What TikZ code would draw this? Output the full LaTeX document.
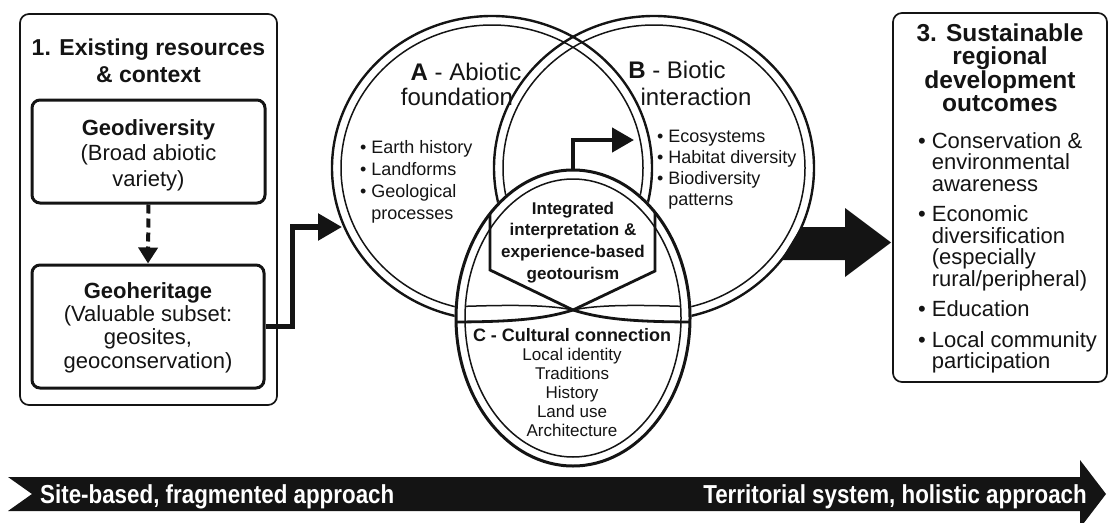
\documentclass[tikz,border=0pt]{standalone}
\usepackage{fontspec}
\setmainfont{Liberation Sans}
\newfontfamily\bandfont[FakeStretch=0.86]{Liberation Sans}
\usetikzlibrary{arrows.meta}
\definecolor{ink}{HTML}{141414}
\newcommand\setfs[2]{\fontsize{#1}{#2}\selectfont}
\newcommand\bul{\makebox[0.62em][l]{•}}
\newcommand\ind{\hspace*{0.62em}}

\begin{document}
\begin{tikzpicture}[x=1pt,y=-1pt,
  panel/.style={draw=ink,line width=1.7pt,rounded corners=9pt},
  subbox/.style={draw=ink,line width=3pt,rounded corners=8pt},
  lbl/.style={inner sep=0pt,text=ink,align=center},
  list/.style={inner sep=0pt,text=ink,align=left,anchor=north west},
  ringout/.style={draw=ink,line width=2.4pt},
  ringin/.style={draw=ink,line width=1.5pt},
  elbow/.style={draw=ink,line width=5.5pt,line join=miter,-{Triangle[width=26pt,length=24pt]}},
  stem/.style={draw=ink,line width=4.5pt,line join=miter,-{Triangle[width=24pt,length=22pt]}},
  dasharrow/.style={draw=ink,line width=4pt,dash pattern=on 9pt off 5pt,-{Triangle[width=19pt,length=16pt]}},
  bandtext/.style={inner sep=0pt,text=white,font=\bandfont\bfseries\setfs{26}{26}},
]
\useasboundingbox (0,0) rectangle (1110,522);
\clip (0,0) rectangle (1110,522);

% ---------- timeline band ----------
\fill[ink] (8,477) -- (1080,477) -- (1080,460) -- (1106,494) -- (1080,528)
  -- (1080,511) -- (8,511) -- (32,494) -- cycle;
\node[bandtext,anchor=base west] (from) at (40,503.5) {Site-based, fragmented approach};
\node[bandtext,anchor=base east] (to) at (1087,503.5) {Territorial system, holistic approach};

% ---------- stage 1 ----------
\node[panel,minimum width=257pt,minimum height=391pt] (stage1) at (148.5,209.5) {};
\node[lbl,anchor=north,font=\bfseries\setfs{23}{27}] (t1) at (148.5,38.5)
  {1. Existing resources\\\& context};
\node[subbox,minimum width=233pt,minimum height=103pt] (geodiv) at (148.5,151.5) {};
\node[lbl,anchor=north,font=\setfs{22}{25.5}] (geodivtxt) at (148.5,119)
  {{\bfseries Geodiversity}\\(Broad abiotic\\variety)};
\node[subbox,minimum width=232pt,minimum height=123pt] (geoher) at (148,326.5) {};
\node[lbl,anchor=north,font=\setfs{22}{23.3}] (geohertxt) at (148,282)
  {{\bfseries Geoheritage}\\(Valuable subset:\\geosites,\\geoconservation)};
\draw[dasharrow] (geodiv.south) -- (geoher.north);

% ---------- stage 3 ----------
\node[panel,minimum width=214pt,minimum height=369pt] (stage3) at (1000,197.5) {};
\node[lbl,anchor=north,font=\bfseries\setfs{24.5}{23.5}] (t3) at (1000,23.5)
  {3. Sustainable\\regional\\development\\outcomes};
\node[list,font=\setfs{22}{21.5}] (outcomes) at (918,132)
  {\bul Conservation \&\\\ind environmental\\\ind awareness\\[9pt]
   \bul Economic\\\ind diversification\\\ind (especially\\\ind rural/peripheral)\\[9pt]
   \bul Education\\[9pt]
   \bul Local community\\\ind participation};

% ---------- arrow from the overlap towards stage 3 ----------
\fill[ink] (801,227) -- (845,227) -- (845,208) -- (891,242.5) -- (845,277)
  -- (845,260) -- (781,260) -- cycle;

% ---------- rings A and B ----------
\draw[ringout] (492,168) ellipse [x radius=160,y radius=152];
\draw[ringin]  (492,168) ellipse [x radius=151,y radius=143];
\draw[ringout] (654,168) ellipse [x radius=160,y radius=152];
\draw[ringin]  (654,168) ellipse [x radius=151,y radius=143];

% ---------- ring C with the shared core ----------
\fill[white] (573,318) ellipse [x radius=118.5,y radius=149.5];
\begin{scope}
  \clip (573,318) ellipse [x radius=117,y radius=148];
  \draw[ink,line width=2.8pt,line join=miter]
    (490,150) -- (490,270) -- (573,310) .. controls (605,320) and (640,322) .. (700,322);
  \draw[ink,line width=2.8pt,line join=miter]
    (655,150) -- (655,271) -- (573,310) .. controls (541,320) and (506,322) .. (446,322);
\end{scope}
\begin{scope}
  \clip (573,318) ellipse [x radius=108,y radius=139];
  \draw[ink,line width=1.5pt]
    (446,307) .. controls (500,305) and (545,304) .. (573,310)
    .. controls (601,304) and (646,305) .. (700,307);
\end{scope}
\draw[ink,line width=3pt] (573,318) ellipse [x radius=117,y radius=148];
\draw[ink,line width=1.5pt] (573,318) ellipse [x radius=108,y radius=139];

% ---------- connectors ----------
\coordinate (aIn) at (342,227);
\coordinate (cTop) at (573,170);
\coordinate (bIn) at (634,140);
\draw[elbow] (geoher.east) -- ++(27,0) |- (aIn);
\draw[stem] (cTop) |- (bIn);

% ---------- ring texts ----------
\node[lbl,anchor=north,font=\setfs{24}{24}] (ta1) at (466,63) {\textbf{A} - Abiotic};
\node[lbl,anchor=north,font=\setfs{24}{24}] (ta2) at (457,88) {foundation};
\node[list,font=\setfs{18}{22}] (alist) at (360,140.4)
  {\bul Earth history\\\bul Landforms\\\bul Geological\\\ind processes};
\node[lbl,anchor=north,font=\setfs{24}{24}] (tb1) at (677,61) {\textbf{B} - Biotic};
\node[lbl,anchor=north,font=\setfs{24}{24}] (tb2) at (696,88) {interaction};
\node[list,font=\setfs{18}{21}] (blist) at (657,130.4)
  {\bul Ecosystems\\\bul Habitat diversity\\\bul Biodiversity\\\ind patterns};
\node[lbl,anchor=north,font=\bfseries\setfs{17}{21.7}] (core) at (573,201.6)
  {Integrated\\interpretation \&\\experience-based\\geotourism};
\node[lbl,anchor=north,font=\setfs{17}{19}] (ctxt) at (572,328.4)
  {{\bfseries\setfs{18}{19}C - Cultural connection}\\Local identity\\Traditions\\History\\Land use\\Architecture};
\end{tikzpicture}
\end{document}
